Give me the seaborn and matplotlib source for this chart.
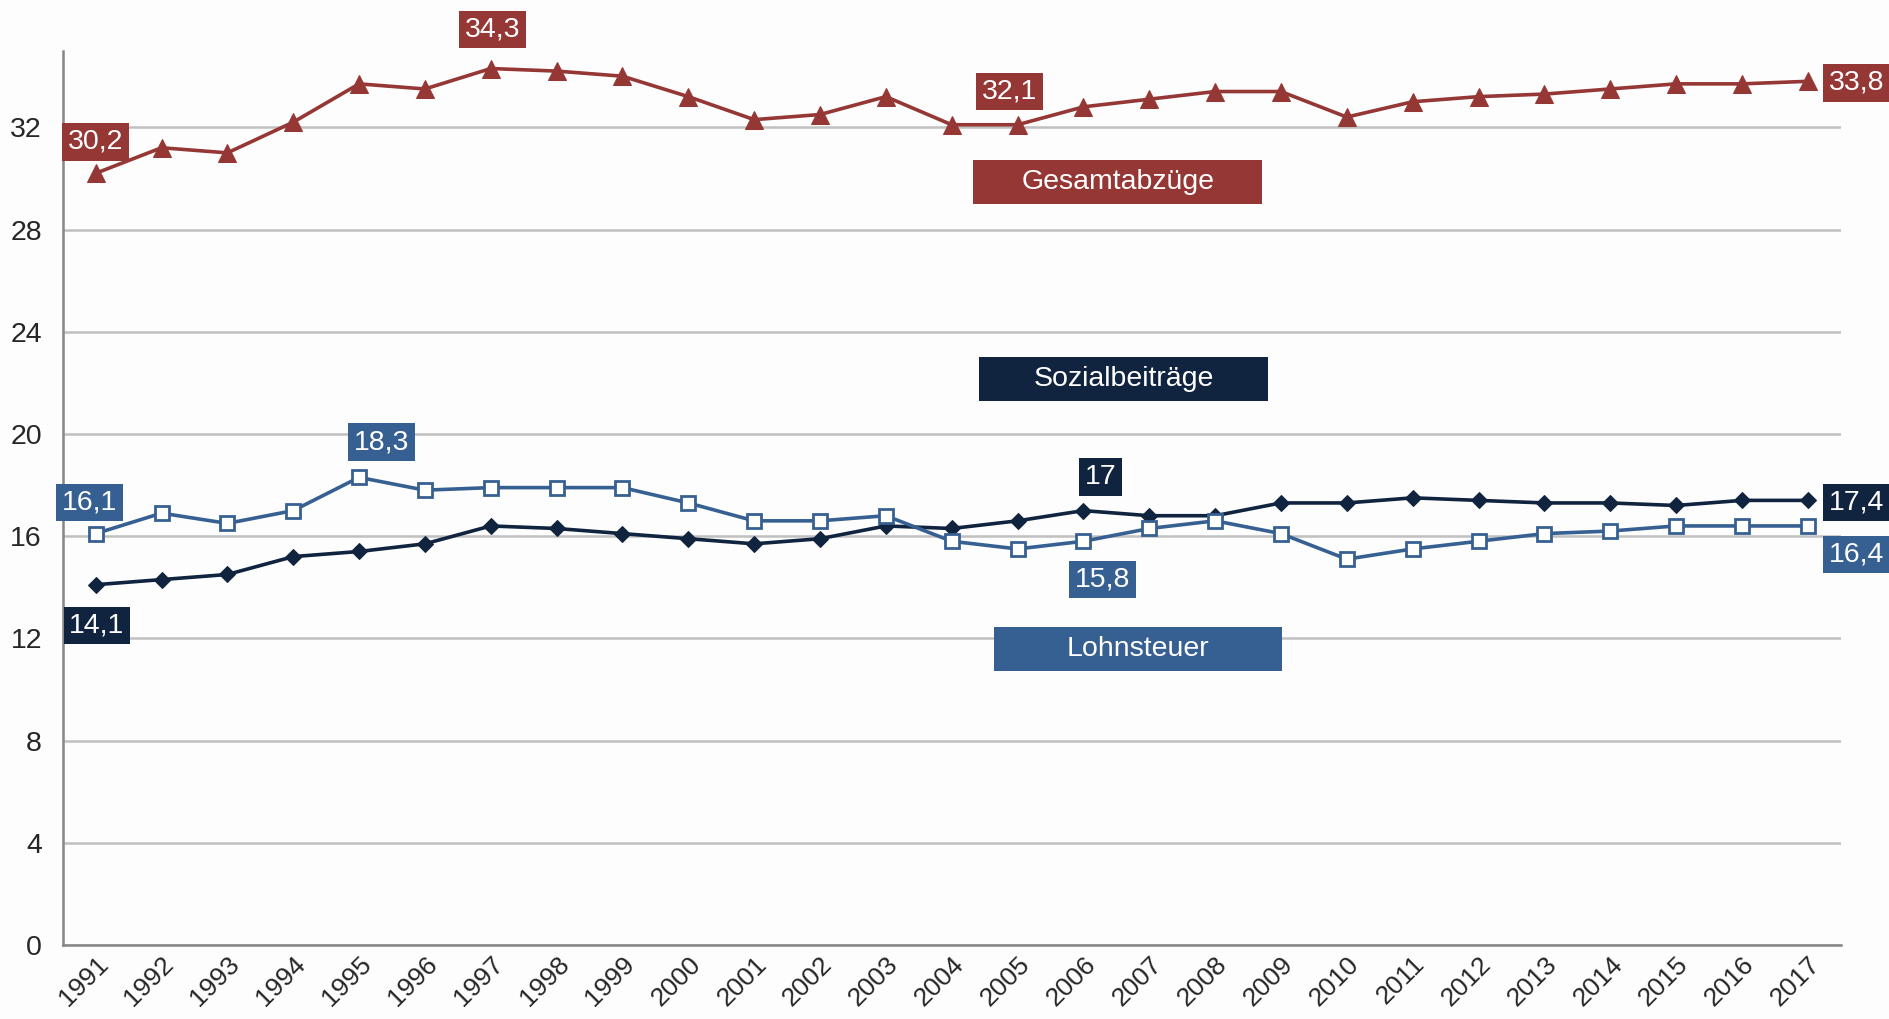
import pandas as pd
import matplotlib.pyplot as plt
import matplotlib.patches as mpatches
import seaborn as sns
import numpy as np

years = list(range(1991, 2018))
gesamt = [30.2, 31.2, 31.0, 32.2, 33.7, 33.5, 34.3, 34.2, 34.0, 33.2, 32.3, 32.5, 33.2, 32.1,
          32.1, 32.8, 33.1, 33.4, 33.4, 32.4, 33.0, 33.2, 33.3, 33.5, 33.7, 33.7, 33.8]
lohnsteuer = [16.1, 16.9, 16.5, 17.0, 18.3, 17.8, 17.9, 17.9, 17.9, 17.3, 16.6, 16.6, 16.8, 15.8,
              15.5, 15.8, 16.3, 16.6, 16.1, 15.1, 15.5, 15.8, 16.1, 16.2, 16.4, 16.4, 16.4]
sozial = [14.1, 14.3, 14.5, 15.2, 15.4, 15.7, 16.4, 16.3, 16.1, 15.9, 15.7, 15.9, 16.4, 16.3,
          16.6, 17.0, 16.8, 16.8, 17.3, 17.3, 17.5, 17.4, 17.3, 17.3, 17.2, 17.4, 17.4]
yticks = [0, 4, 8, 12, 16, 20, 24, 28, 32]

RED = '#953735'
NAVY = '#10243F'
BLUE = '#376092'

sns.set_style('white')
plt.rcParams['font.family'] = ['Liberation Sans', 'DejaVu Sans']

df = pd.DataFrame({'Jahr': years, 'Gesamtabzüge': gesamt,
                   'Lohnsteuer': lohnsteuer, 'Sozialbeiträge': sozial})

fig = plt.figure(figsize=(18.9, 10.19), dpi=100)
fig.patch.set_facecolor('#FDFDFD')
ax = fig.add_axes([0.0332, 0.0726, 0.9407, 0.8777])
ax.set_facecolor('#FDFDFD')

ax.grid(axis='y', color='#C0C0C0', linewidth=1.8, zorder=0)
ax.set_axisbelow(True)

sns.lineplot(data=df, x='Jahr', y='Gesamtabzüge', ax=ax, color=RED, linewidth=2.6,
             marker='^', markersize=12.5, markeredgecolor=RED, markerfacecolor=RED, zorder=3)
sns.lineplot(data=df, x='Jahr', y='Sozialbeiträge', ax=ax, color=NAVY, linewidth=2.6,
             marker='D', markersize=8, markeredgecolor=NAVY, markerfacecolor=NAVY, zorder=3)
sns.lineplot(data=df, x='Jahr', y='Lohnsteuer', ax=ax, color=BLUE, linewidth=2.6,
             marker='s', markersize=9.5, markeredgecolor=BLUE, markerfacecolor='white',
             markeredgewidth=2, zorder=4)

ax.set_xlim(1990.5, 2017.5)
ax.set_ylim(0, 35)
ax.set_yticks(yticks)
ax.set_xticks(years)
ax.set_xticklabels([str(y) for y in years], rotation=45, ha='right', rotation_mode='anchor')
ax.set_xticks(np.arange(1990.5, 2018, 1), minor=True)
ax.tick_params(axis='x', which='major', length=0, labelsize=19, pad=5)
ax.tick_params(axis='x', which='minor', direction='in', length=7, width=1.4, color='#868686')
ax.tick_params(axis='y', direction='out', length=7, width=1.4, color='#868686',
               labelsize=20.5, pad=8)
ax.set_xlabel('')
ax.set_ylabel('')
for side in ['top', 'right']:
    ax.spines[side].set_visible(False)
for side in ['left', 'bottom']:
    ax.spines[side].set_color('#868686')
    ax.spines[side].set_linewidth(1.8)


def fmt(v):
    s = f'{v:.1f}'.replace('.', ',')
    return s[:-2] if s.endswith(',0') else s


# value labels: (series, year, label x, label y, colour)
labels = [
    (gesamt, 1991, 1991.0, 31.43, RED),
    (gesamt, 1997, 1997.03, 35.82, RED),
    (gesamt, 2005, 2004.88, 33.41, RED),
    (gesamt, 2017, 2017.74, 33.74, RED),
    (lohnsteuer, 1991, 1990.91, 17.32, BLUE),
    (lohnsteuer, 1995, 1995.34, 19.68, BLUE),
    (sozial, 2006, 2006.26, 18.31, NAVY),
    (lohnsteuer, 2006, 2006.29, 14.3, BLUE),
    (sozial, 2017, 2017.74, 17.32, NAVY),
    (lohnsteuer, 2017, 2017.74, 15.29, BLUE),
    (sozial, 1991, 1991.02, 12.5, NAVY),
]
for series, yr, lx, ly, col in labels:
    val = series[years.index(yr)]
    ax.text(lx, ly, fmt(val), ha='center', va='center', color='white', fontsize=20.5,
            clip_on=False, zorder=6,
            bbox=dict(boxstyle='square,pad=0.2', facecolor=col, edgecolor='none'))

# series name boxes
names = [
    ('Gesamtabzüge', 2004.33, 28.98, RED),
    ('Sozialbeiträge', 2004.42, 21.28, NAVY),
    ('Lohnsteuer', 2004.64, 10.71, BLUE),
]
for name, x0, y0, col in names:
    w, h = 4.38, 1.75
    ax.add_patch(mpatches.Rectangle((x0, y0), w, h, facecolor=col, edgecolor='none', zorder=5))
    ax.text(x0 + w / 2, y0 + h / 2, name, ha='center', va='center', color='white',
            fontsize=20.5, zorder=6)

fig.savefig('out.png', dpi=100, facecolor=fig.get_facecolor())
